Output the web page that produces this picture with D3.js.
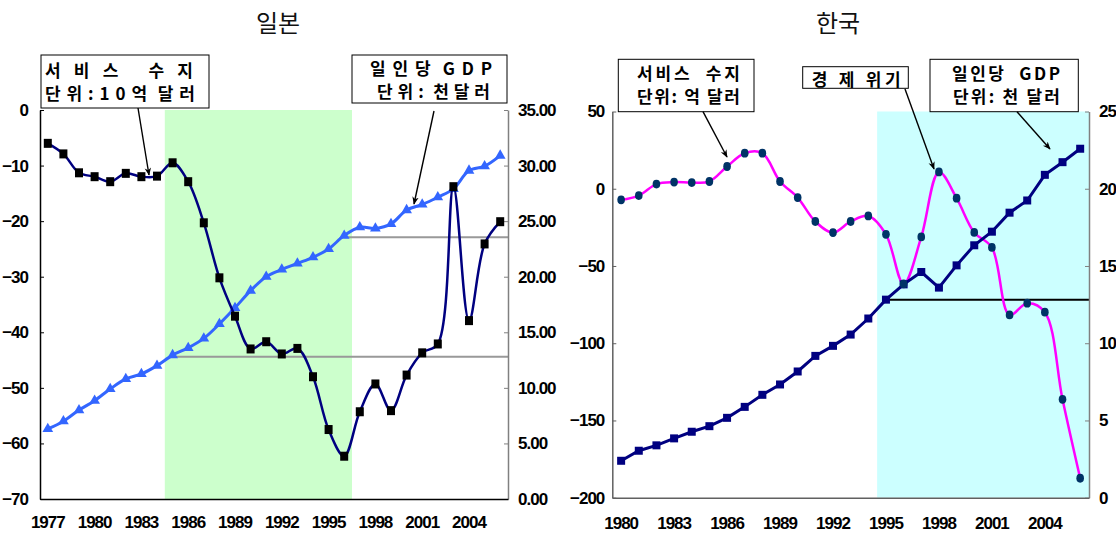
<!DOCTYPE html>
<html><head><meta charset="utf-8">
<script src="https://cdn.jsdelivr.net/npm/d3@7/dist/d3.min.js"></script>
<style>
body{margin:0;background:#fff;}
svg{display:block;}
.num{font-family:"Liberation Sans Narrow","Arial Narrow","Liberation Sans",sans-serif;font-weight:bold;font-size:17px;letter-spacing:-1px;fill:#000;}
.kr{font-family:"Noto Sans CJK KR","Noto Sans",sans-serif;font-weight:bold;font-size:17px;fill:#000;white-space:pre;}
.title{font-family:"Noto Sans CJK KR",sans-serif;font-weight:400;font-size:24px;fill:#111;}
</style></head>
<body>
<svg id="c" width="1116" height="534"></svg>
<script>
// ---------- DATA ----------
const jpYears = d3.range(1977, 2007);
const jpService = [-6.0,-7.9,-11.3,-12.0,-12.9,-11.4,-12.0,-11.9,-9.5,-12.9,-20.3,-30.2,-37.1,-43.0,-41.7,-43.9,-42.9,-48.0,-57.5,-62.3,-54.3,-49.3,-54.1,-47.7,-43.7,-42.1,-13.8,-37.9,-24.1,-20.1];
const jpGdp = [6.3,7.0,8.0,8.85,9.9,10.8,11.25,12.0,12.95,13.6,14.45,15.75,17.2,18.75,20.0,20.65,21.2,21.75,22.5,23.7,24.45,24.35,24.75,26.0,26.5,27.15,27.9,29.55,29.95,30.9];
const jpLeftTicks = [0,-10,-20,-30,-40,-50,-60,-70];
const jpRightTicks = [0,5,10,15,20,25,30,35];
const jpXTicks = [1977,1980,1983,1986,1989,1992,1995,1998,2001,2004];
const jpShade = [1985, 1996];
const jpRefLines = [{from:1985, value:12.8},{from:1996, value:23.55}];

const krYears = d3.range(1980, 2007);
const krService = [-7.2,-4.4,3.0,4.3,4.0,4.7,14.4,23.0,23.0,4.7,-5.7,-21.2,-28.4,-21.2,-17.6,-29.5,-61.6,-31.2,10.9,-6.1,-28.3,-38.0,-81.7,-74.1,-79.9,-136.3,-187.4];
const krGdp = [2.39,3.04,3.39,3.84,4.27,4.63,5.17,5.88,6.66,7.33,8.17,9.18,9.83,10.56,11.6,12.82,13.81,14.61,13.6,15.04,16.34,17.22,18.45,19.24,20.9,21.72,22.59];
const krLeftTicks = [50,0,-50,-100,-150,-200];
const krRightTicks = [0,5,10,15,20,25];
const krXTicks = [1980,1983,1986,1989,1992,1995,1998,2001,2004];
const krShade = [1995, 2006];
const krRefLines = [{from:1995, value:12.82}];

// ---------- DRAW ----------
const svg = d3.select("#c");
const defs = svg.append("defs");
defs.append("marker").attr("id","ah").attr("viewBox","0 0 10 10").attr("refX",9).attr("refY",5)
  .attr("markerWidth",8).attr("markerHeight",8).attr("markerUnits","userSpaceOnUse").attr("orient","auto")
  .append("path").attr("d","M0,1 L10,5 L0,9 L3,5 Z").attr("fill","#000");

const S = "\u00A0";
function box(g, x, y, w, h, lines){
  g.append("rect").attr("x",x).attr("y",y).attr("width",w).attr("height",h)
    .attr("fill","#fff").attr("stroke","#000").attr("stroke-width",1);
  lines.forEach(l=>{
    g.append("text").attr("class","kr").attr("x",l.x).attr("y",l.y).attr("dominant-baseline","central")
      .attr("textLength",l.len).attr("lengthAdjust","spacing").text(l.t.replace(/ /g,S));
  });
}
function arrow(g,x1,y1,x2,y2){
  g.append("line").attr("x1",x1).attr("y1",y1).attr("x2",x2).attr("y2",y2)
    .attr("stroke","#000").attr("stroke-width",1.4).attr("marker-end","url(#ah)");
}
function styleText(sel){
  sel.selectAll("text").attr("class","num").attr("fill",null);
  sel.attr("font-family",null).attr("font-size",null);
}

// ===== Japan =====
(function(){
  const g = svg.append("g");
  const L=40,R=508,T=110,B=499;
  const x = d3.scaleBand().domain(jpYears).range([L,R]);
  const cx = d => x(d)+x.bandwidth()/2;
  const yL = d3.scaleLinear().domain([-70,0]).range([B,T]);
  const yR = d3.scaleLinear().domain([0,35]).range([B,T]);

  g.append("rect").attr("x",x(jpShade[0])).attr("y",T)
    .attr("width",x(jpShade[1])+x.bandwidth()-x(jpShade[0])).attr("height",B-T).attr("fill","#CCFFCC");

  jpRefLines.forEach(r=>{
    g.append("line").attr("x1",cx(r.from)).attr("x2",R).attr("y1",yR(r.value)).attr("y2",yR(r.value))
      .attr("stroke","#999").attr("stroke-width",2);
  });

  const ax = g.append("g").attr("transform",`translate(${L},0)`)
    .call(d3.axisLeft(yL).tickValues(jpLeftTicks).tickSizeInner(-4).tickSizeOuter(0).tickPadding(12));
  ax.select(".domain").attr("stroke","#000").attr("stroke-width",1.5);
  ax.selectAll(".tick line").attr("stroke","#000");
  styleText(ax);

  const axr = g.append("g").attr("transform",`translate(${R},0)`)
    .call(d3.axisRight(yR).tickValues(jpRightTicks).tickFormat(d3.format(".2f")).tickSizeInner(-4).tickSizeOuter(0).tickPadding(10));
  axr.select(".domain").attr("stroke","#808080").attr("stroke-width",1.5);
  axr.selectAll(".tick line").attr("stroke","#808080");
  styleText(axr);

  const axb = g.append("g").attr("transform",`translate(0,${B})`)
    .call(d3.axisBottom(x).tickValues(jpXTicks).tickSize(0).tickPadding(17));
  axb.select(".domain").attr("stroke","#000").attr("stroke-width",1.5);
  styleText(axb);

  const lg = d3.line().x((d,i)=>cx(jpYears[i])).y(d=>yR(d)).curve(d3.curveCatmullRom.alpha(0.5));
  g.append("path").datum(jpGdp).attr("d",lg).attr("fill","none").attr("stroke","#3366FF").attr("stroke-width",3);
  g.selectAll(".tri").data(jpGdp).enter().append("path")
    .attr("d",d3.symbol().type(d3.symbolTriangle).size(50))
    .attr("transform",(d,i)=>`translate(${cx(jpYears[i])},${yR(d)})`).attr("fill","#3366FF");

  const ls = d3.line().x((d,i)=>cx(jpYears[i])).y(d=>yL(d)).curve(d3.curveCatmullRom.alpha(0.5));
  g.append("path").datum(jpService).attr("d",ls).attr("fill","none").attr("stroke","#000080").attr("stroke-width",2.5);
  g.selectAll(".sq").data(jpService).enter().append("rect")
    .attr("x",(d,i)=>cx(jpYears[i])-4).attr("y",d=>yL(d)-4.5).attr("width",8).attr("height",9).attr("fill","#000");

  g.append("text").attr("class","title").attr("x",278).attr("y",32).attr("text-anchor","middle").text("일본");

  box(g,41,55,168,53,[
    {t:"서 비 스   수 지",x:45,y:69,len:148},
    {t:"단 위 : 1 0 억  달 러",x:45,y:92,len:150}]);
  arrow(g,138,108,149,175);
  box(g,352,55,155,48,[
    {t:"일 인 당  G D P",x:370,y:67,len:122},
    {t:"단 위 :  천 달 러",x:377,y:90,len:113}]);
  arrow(g,434,111,414,204);
})();

// ===== Korea =====
(function(){
  const g = svg.append("g");
  const L=612.3,R=1089,T=111.5,B=497.7;
  const x = d3.scaleBand().domain(krYears).range([L,R]);
  const cx = d => x(d)+x.bandwidth()/2;
  const yL = d3.scaleLinear().domain([-200,50]).range([B,T]);
  const yR = d3.scaleLinear().domain([0,25]).range([B,T]);

  g.append("rect").attr("x",x(krShade[0])).attr("y",T)
    .attr("width",x(krShade[1])+x.bandwidth()-x(krShade[0])).attr("height",B-T).attr("fill","#CCFFFF");

  krRefLines.forEach(r=>{
    g.append("line").attr("x1",cx(r.from)).attr("x2",R).attr("y1",yR(r.value)).attr("y2",yR(r.value))
      .attr("stroke","#000").attr("stroke-width",2);
  });

  const ax = g.append("g").attr("transform",`translate(${L},0)`)
    .call(d3.axisLeft(yL).tickValues(krLeftTicks).tickSizeInner(-4).tickSizeOuter(0).tickPadding(8));
  ax.select(".domain").attr("stroke","#606060").attr("stroke-width",1.5);
  ax.selectAll(".tick line").attr("stroke","#606060");
  styleText(ax);

  const axr = g.append("g").attr("transform",`translate(${R},0)`)
    .call(d3.axisRight(yR).tickValues(krRightTicks).tickSizeInner(-4).tickSizeOuter(0).tickPadding(10));
  axr.select(".domain").attr("stroke","#808080").attr("stroke-width",1.5);
  axr.selectAll(".tick line").attr("stroke","#808080");
  styleText(axr);

  const axb = g.append("g").attr("transform",`translate(0,${B})`)
    .call(d3.axisBottom(x).tickValues(krXTicks).tickSize(0).tickPadding(19));
  axb.select(".domain").attr("stroke","#606060").attr("stroke-width",1.5);
  styleText(axb);

  const ls = d3.line().x((d,i)=>cx(krYears[i])).y(d=>yL(d)).curve(d3.curveCatmullRom.alpha(0.5));
  g.append("path").datum(krService).attr("d",ls).attr("fill","none").attr("stroke","#FF00FF").attr("stroke-width",2.5);

  const lg = d3.line().x((d,i)=>cx(krYears[i])).y(d=>yR(d));
  g.append("path").datum(krGdp).attr("d",lg).attr("fill","none").attr("stroke","#000080").attr("stroke-width",3);
  g.selectAll(".sq").data(krGdp).enter().append("rect")
    .attr("x",(d,i)=>cx(krYears[i])-4).attr("y",d=>yR(d)-4).attr("width",8).attr("height",8).attr("fill","#000080");

  g.selectAll(".ci").data(krService).enter().append("ellipse")
    .attr("cx",(d,i)=>cx(krYears[i])).attr("cy",d=>yL(d)).attr("rx",3.8).attr("ry",4.4).attr("fill","#003366");

  g.append("text").attr("class","title").attr("x",838).attr("y",32).attr("text-anchor","middle").text("한국");

  box(g,618.3,59.3,135.7,52.4,[
    {t:"서비스  수지",x:637,y:72,len:103},
    {t:"단위: 억 달러",x:637,y:95,len:103}]);
  arrow(g,703,111.7,727,157);
  box(g,802.7,66.7,105.6,21.6,[
    {t:"경 제 위기",x:811.7,y:78,len:89}]);
  arrow(g,905,89,934,169);
  box(g,930,59.3,148.3,52.4,[
    {t:"일인당  GDP",x:952,y:72,len:108},
    {t:"단위: 천 달러",x:953,y:95,len:107}]);
  arrow(g,1017,111.7,1050,149);
})();
</script>
</body></html>
